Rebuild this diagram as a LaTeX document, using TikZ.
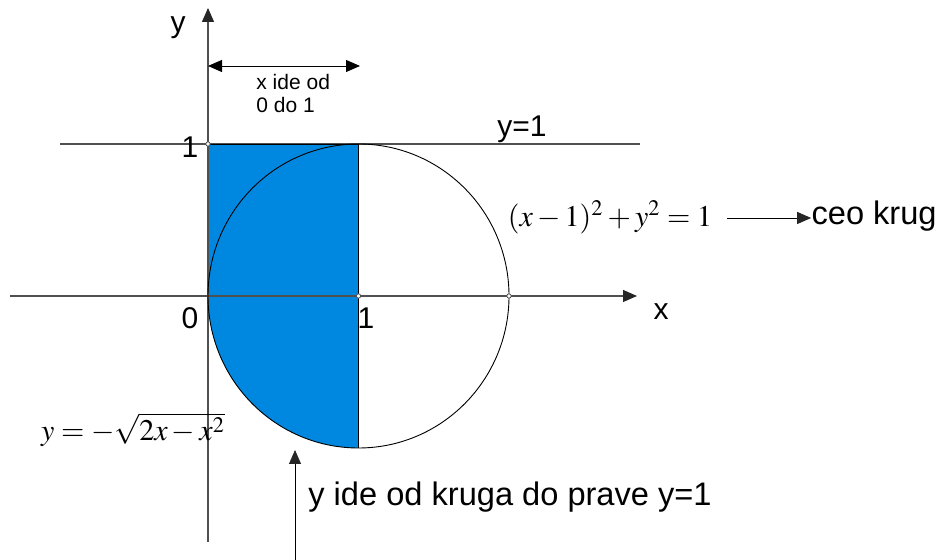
\documentclass[tikz,border=0pt]{standalone}
\usepackage{mathptmx}
\usepackage[no-math]{fontspec}
\setmainfont{Liberation Sans}
\usetikzlibrary{arrows.meta}
\definecolor{fillblue}{RGB}{0,136,224}
\definecolor{axisgray}{RGB}{80,80,80}
\begin{document}
\begin{tikzpicture}[x=0.5pt,y=0.5pt,
  axis/.style={axisgray,line width=0.6pt},
  thin/.style={black,line width=0.45pt},
  tip/.style={-{Triangle[length=7pt,width=6pt,color=black!85]}},
  lbl/.style={inner sep=0pt,font=\fontsize{15}{17}\selectfont},
  big/.style={inner sep=0pt,font=\fontsize{16.3}{18}\selectfont},
  small/.style={inner sep=0pt,font=\fontsize{10.5}{11.5}\selectfont,align=left},
  pt/.style={circle,draw=axisgray,fill=white,inner sep=0pt,minimum size=2.2pt,line width=0.4pt}]
\useasboundingbox (0,0) rectangle (941,560);
% coordinates
\coordinate (O) at (208,264);
\coordinate (C) at (358.5,264);
\coordinate (R) at (509,264);
\coordinate (T) at (208,416);
\coordinate (TC) at (358.5,416);
\coordinate (B) at (358.5,112);
% fill
\fill[fillblue] (T) -- (TC) -- (B) arc[start angle=270,end angle=180,x radius=150.5,y radius=152] -- cycle;
% line y=1
\coordinate (L1) at (60,416);
\coordinate (L2) at (640,416);
\draw[axis] (L1) -- (L2);
% axes
\coordinate (xa) at (10,264);
\coordinate (xb) at (637,264);
\coordinate (ya) at (208,18);
\coordinate (yb) at (208,552);
\draw[axis,tip] (xa) -- (xb);
\draw[axis,tip] (ya) -- (yb);
% circle
\draw[thin] (C) ellipse[x radius=150.5,y radius=152];
\draw[thin] (TC) -- (B);
\draw[thin] (T) -- (TC);
% points
\node[pt] (p1) at (T) {};
\node[pt] (p2) at (C) {};
\node[pt] (p3) at (R) {};
% double arrow
\coordinate (da) at (208,494);
\coordinate (db) at (360,494);
\draw[thin,{Triangle[length=7pt,width=6pt]}-{Triangle[length=7pt,width=6pt]}] (da) -- (db);
\node[small,anchor=north west] (xt) at (256,486) {x ide od\\0 do 1};
% labels
\node[lbl] (ylab) at (178,532) {y};
\node[lbl] (xlab) at (661,248) {x};
\node[lbl] (zero) at (190,242) {0};
\node[lbl] (one) at (366,242) {1};
\node[lbl] (oney) at (190,413) {1};
\node[lbl,anchor=west] (y1) at (497,431) {y=1};
% formula
\node[inner sep=0pt,font=\fontsize{15}{17}\selectfont] (f1) at (610,343) {$(x-1)^2+y^2=1$};
\node[big,anchor=east] (ceo) at (937,344) {ceo krug};
\coordinate (fa) at (727,342);
\draw[thin,tip] (fa) -- (fa -| ceo.west);
\node[inner sep=0pt,font=\fontsize{15}{17}\selectfont] (f2) at (133,130) {$y=-\sqrt{2x-x^2}$};
% bottom arrow
\coordinate (ba) at (295,0);
\coordinate (bb) at (295,110);
\draw[thin,tip] (ba) -- (bb);
\node[big,anchor=west] (ytxt) at (308,63) {y ide od kruga do prave y=1};
\end{tikzpicture}
\end{document}
